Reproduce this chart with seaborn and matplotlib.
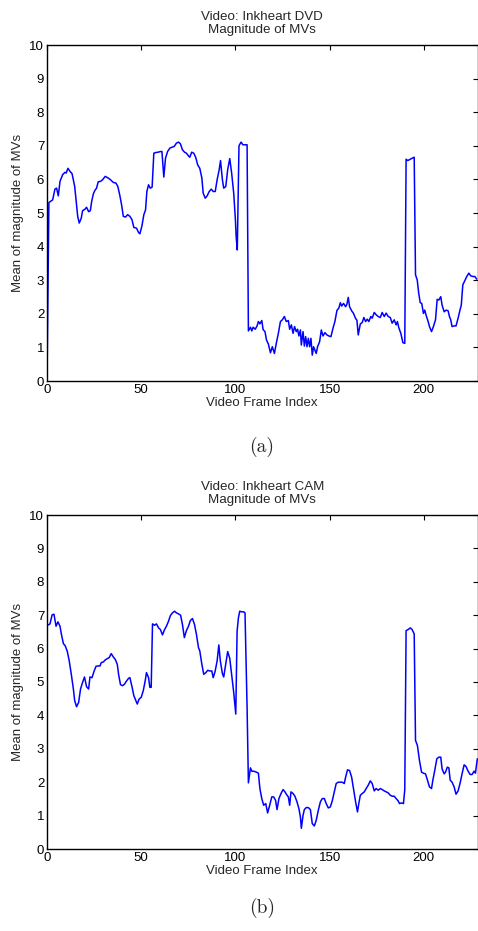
import matplotlib
matplotlib.use("Agg")
import matplotlib.pyplot as plt
import seaborn as sns
import pandas as pd

# ---- data ----
dvd_frames = [0, 1, 3, 4.2, 5.1, 6, 6.9, 8.3, 9.5, 10.2, 11.1, 12.2, 13.3, 14.7, 15.4, 16.3, 17.1, 18.2, 18.9,
              20.1, 21, 22.1, 23, 23.7, 24.6, 25.4, 26.3, 27.2, 28.4, 29.5, 30.9, 32.5, 33.7, 35.2, 36.6, 37.6,
              38.7, 39.6, 40.5, 41.7, 42.8, 44, 45.1, 46.1, 47.5, 48.6, 49.3, 50.4, 51.4, 52.3, 53, 53.9, 54.8,
              55.8, 56.7, 57.8, 59, 60.3, 61, 62, 62.9, 64, 65.2, 66.4, 67.5, 68.7, 69.8, 70.8, 71.9, 73, 74,
              75.1, 75.8, 76.8, 77.9, 78.9, 80, 81.1, 82.2, 82.9, 84, 85, 86.1, 87.2, 88.2, 89.3, 90.3, 91.4,
              92.1, 93.1, 93.8, 94.9, 95.9, 97, 98, 99.1, 100, 100.4, 101, 101.9, 103, 104, 105.1, 106.2,
              106.9, 108, 108.7, 109.4, 110.5, 111.5, 112.2, 113, 114, 114.7, 115.7, 116.5, 117.5, 118.6,
              119.6, 120.7, 121.7, 122.8, 123.9, 124.9, 126, 127, 128.1, 128.8, 129.7, 130.6, 131.4, 132.3,
              133, 133.7, 134.5, 135, 135.9, 136.6, 137.3, 138, 138.7, 139.4, 140.1, 140.8, 141.5, 142.2,
              142.9, 143.6, 144.7, 145.6, 146.5, 147.5, 148.6, 149.6, 150.7, 151.8, 152.8, 153.9, 154.9,
              155.7, 156.4, 157.4, 158.5, 159.2, 159.9, 160.6, 161.7, 162.7, 163.8, 164.5, 165.2, 166.3,
              167.3, 168.2, 169.1, 170, 170.8, 171.9, 172.6, 173.7, 174.7, 175.8, 176.9, 177.9, 179, 180,
              181.1, 182.2, 183.2, 184.3, 185.3, 186, 186.7, 187.8, 188.9, 189.9, 190.6, 191.5, 192.8,
              193.8, 194.9, 195.6, 196.5, 197.3, 198.1, 198.9, 199.8, 200.5, 201.2, 202.3, 203, 204.1,
              205.1, 206.2, 207.1, 208, 209, 209.7, 210.8, 211.8, 212.9, 213.6, 214.3, 215, 216.1, 217.1,
              218.2, 219.2, 219.9, 220.7, 221.7, 222.8, 223.9, 224.9, 226, 227.1, 228.1]
dvd_values = [0.0, 5.31, 5.39, 5.71, 5.74, 5.51, 5.94, 6.14, 6.21, 6.19, 6.33, 6.24, 6.17, 5.79, 5.39, 4.90,
              4.70, 4.85, 5.07, 5.11, 5.17, 5.04, 5.07, 5.34, 5.57, 5.67, 5.74, 5.93, 5.94, 5.99, 6.09, 6.04,
              5.99, 5.91, 5.89, 5.79, 5.51, 5.24, 4.90, 4.88, 4.95, 4.90, 4.80, 4.57, 4.55, 4.42, 4.38, 4.62,
              4.95, 5.09, 5.64, 5.84, 5.74, 5.77, 6.78, 6.80, 6.81, 6.83, 6.83, 6.07, 6.63, 6.83, 6.93, 6.96,
              6.98, 7.08, 7.11, 7.06, 6.88, 6.81, 6.78, 6.70, 6.66, 6.81, 6.78, 6.66, 6.43, 6.33, 6.04, 5.59,
              5.44, 5.51, 5.64, 5.71, 5.64, 5.64, 5.99, 6.29, 6.56, 5.99, 5.74, 5.79, 6.29, 6.62, 6.19, 5.59,
              4.80, 4.30, 3.90, 7.00, 7.11, 7.03, 7.03, 7.03, 1.49, 1.60, 1.49, 1.60, 1.54, 1.64, 1.77, 1.70,
              1.80, 1.53, 1.47, 1.22, 1.10, 0.84, 1.02, 0.82, 1.12, 1.42, 1.77, 1.82, 1.92, 1.77, 1.80, 1.54,
              1.67, 1.42, 1.62, 1.47, 1.54, 1.34, 1.52, 1.07, 1.47, 1.04, 1.32, 1.02, 1.27, 1.02, 1.27, 0.77,
              1.02, 0.92, 0.82, 1.02, 1.17, 1.52, 1.34, 1.44, 1.37, 1.34, 1.32, 1.57, 1.77, 2.10, 2.17, 2.33,
              2.23, 2.31, 2.21, 2.29, 2.49, 2.21, 2.09, 2.01, 1.86, 1.81, 1.37, 1.70, 1.74, 1.89, 1.77, 1.84,
              1.77, 1.92, 1.87, 2.04, 1.97, 1.92, 1.89, 2.04, 1.92, 2.02, 1.92, 1.89, 1.72, 1.82, 1.67, 1.77,
              1.59, 1.42, 1.14, 1.12, 6.60, 6.56, 6.60, 6.63, 6.66, 3.16, 3.01, 2.61, 2.33, 2.31, 2.01, 2.11,
              1.96, 1.77, 1.62, 1.47, 1.62, 1.82, 2.43, 2.41, 2.51, 2.26, 2.06, 2.11, 2.09, 1.92, 1.82, 1.62,
              1.64, 1.64, 1.87, 2.11, 2.26, 2.86, 2.98, 3.11, 3.21, 3.13, 3.11, 3.11, 3.03]

cam_frames = [0, 1.6, 2.7, 3.7, 4.8, 5.8, 6.9, 7.6, 8.7, 9.7, 10.8, 11.8, 12.9, 14, 14.7, 15.7, 16.8, 17.8,
              18.9, 19.9, 21, 22.1, 22.8, 23.9, 24.9, 26, 27, 28.1, 28.8, 29.9, 30.9, 32, 33, 34.1, 35.2, 36.2,
              37.3, 38, 39, 40.1, 41.2, 42.2, 43.3, 44, 45.1, 46.1, 47.2, 47.9, 48.9, 50, 51.1, 52.1, 52.8,
              53.9, 54.6, 55.3, 56, 57.1, 58.1, 59.2, 60.2, 61.3, 62.4, 63.4, 64.5, 65.5, 66.6, 67.7, 68.7,
              69.8, 70.9, 71.9, 72.9, 74, 75.1, 76.1, 77.2, 78.3, 79.3, 80.4, 81.1, 82.2, 83.2, 84.3, 85.3,
              86.4, 87.5, 88.2, 89.2, 90.3, 91.2, 92, 93.1, 93.8, 94.9, 95.9, 97, 98, 99.1, 100.2, 100.9,
              101.6, 102.3, 103.4, 104.4, 105.1, 106.2, 106.9, 108, 108.7, 109.7, 111.2, 112.2, 113, 114, 115,
              116.1, 117.1, 118.2, 119.3, 120.3, 121.3, 122.1, 123.1, 124.2, 125.3, 126.3, 127.4, 128.1,
              128.8, 129.5, 130.6, 131.6, 132.7, 133.7, 134.5, 135, 135.9, 136.6, 137.6, 138.7, 139.8, 140.8,
              141.9, 142.9, 144, 145.1, 146.1, 147.2, 148.2, 149.3, 150.4, 151.4, 152.5, 153.5, 154.6, 155.7,
              156.7, 157.8, 158.5, 159.5, 160.6, 161.7, 162.7, 163.8, 164.8, 165.5, 166.3, 167.3, 168.4,
              169.4, 170.5, 171.6, 172.6, 173.7, 174.7, 175.8, 176.9, 177.9, 179, 180, 181.1, 182.2, 183.2,
              184.3, 185.3, 186.4, 187.1, 188.2, 189.2, 189.9, 190.6, 191.7, 192.8, 193.8, 194.9, 195.6,
              196.6, 197.7, 198.8, 199.8, 200.9, 201.9, 203, 204.1, 204.8, 205.8, 206.9, 208, 209, 209.7,
              210.8, 211.5, 212.5, 213.3, 214, 215, 216.1, 217.1, 218.2, 219.3, 220.3, 221.4, 222.4, 223.5,
              224.6, 225.6, 226.7, 227.4, 228.4]
cam_values = [6.69, 6.74, 7.01, 7.03, 6.67, 6.80, 6.67, 6.44, 6.15, 6.08, 5.91, 5.63, 5.23, 4.79, 4.44, 4.26,
              4.39, 4.79, 4.99, 5.15, 4.86, 4.79, 5.15, 5.13, 5.31, 5.47, 5.48, 5.48, 5.58, 5.60, 5.66, 5.70,
              5.73, 5.85, 5.75, 5.68, 5.53, 5.23, 4.92, 4.89, 4.94, 5.03, 5.11, 5.13, 4.86, 4.59, 4.44, 4.34,
              4.49, 4.54, 4.74, 5.03, 5.28, 5.13, 4.84, 4.84, 6.74, 6.70, 6.74, 6.62, 6.57, 6.41, 6.57, 6.67,
              6.82, 6.99, 7.07, 7.12, 7.07, 7.04, 7.00, 6.72, 6.33, 6.54, 6.67, 6.84, 6.90, 6.72, 6.43, 6.03,
              5.93, 5.53, 5.23, 5.28, 5.35, 5.33, 5.33, 5.13, 5.31, 5.63, 6.11, 5.63, 5.25, 5.15, 5.55, 5.91,
              5.71, 5.23, 4.69, 4.04, 6.52, 6.92, 7.12, 7.10, 7.10, 7.07, 4.24, 1.98, 2.43, 2.33, 2.33, 2.30,
              2.27, 1.81, 1.51, 1.31, 1.36, 1.08, 1.31, 1.56, 1.56, 1.46, 1.18, 1.51, 1.66, 1.78, 1.71, 1.61,
              1.56, 1.31, 1.71, 1.66, 1.58, 1.41, 1.21, 0.96, 0.62, 1.01, 1.18, 1.24, 1.24, 1.18, 0.76, 0.69,
              0.86, 1.16, 1.41, 1.51, 1.51, 1.36, 1.23, 1.26, 1.44, 1.71, 1.96, 2.00, 2.00, 2.00, 1.96, 2.15,
              2.37, 2.35, 2.15, 1.80, 1.41, 1.11, 1.36, 1.61, 1.66, 1.71, 1.81, 1.91, 2.04, 1.96, 1.74, 1.81,
              1.76, 1.81, 1.78, 1.74, 1.71, 1.68, 1.61, 1.58, 1.58, 1.51, 1.44, 1.36, 1.38, 1.36, 1.78, 6.54,
              6.57, 6.62, 6.57, 6.44, 3.25, 3.10, 2.65, 2.30, 2.27, 2.25, 2.07, 1.86, 1.81, 2.06, 2.35, 2.70,
              2.75, 2.75, 2.40, 2.25, 2.30, 2.45, 2.43, 2.06, 2.00, 1.86, 1.64, 1.74, 1.98, 2.25, 2.52, 2.47,
              2.33, 2.23, 2.23, 2.33, 2.27, 2.70]

titles = ["Video: Inkheart DVD\nMagnitude of MVs", "Video: Inkheart CAM\nMagnitude of MVs"]
captions = ["(a)", "(b)"]
x_ticks = [0, 50, 100, 150, 200]
y_ticks = list(range(0, 11))

sns.set_theme(style="white")
plt.rcParams["font.family"] = ["Liberation Sans", "DejaVu Sans"]

W, H = 478, 931
fig = plt.figure(figsize=(W / 100, H / 100), dpi=100)

# axes boxes in pixel coords: (left, top, right, bottom)
boxes = [(47, 45, 477.5, 381), (47, 515, 477.5, 849)]
caption_y = [447, 908]

series = [(dvd_frames, dvd_values), (cam_frames, cam_values)]
for i, (box, (fx, fy)) in enumerate(zip(boxes, series)):
    l, t, r, b = box
    ax = fig.add_axes([l / W, 1 - b / H, (r - l) / W, (b - t) / H])
    df = pd.DataFrame({"frame": fx, "value": fy})
    sns.lineplot(data=df, x="frame", y="value", ax=ax, color="#0000ff",
                 linewidth=1.1, estimator=None, sort=False)
    ax.set_xlim(0, 228.5)
    ax.set_ylim(0, 10)
    ax.set_xticks(x_ticks)
    ax.set_yticks(y_ticks)
    ax.tick_params(direction="in", length=3.5, width=0.8, colors="black",
                   top=True, right=True, labelsize=9.5, pad=2)
    for s in ax.spines.values():
        s.set_visible(True)
        s.set_color("black")
        s.set_linewidth(1.0)
    ax.set_xlabel("Video Frame Index", fontsize=9.5, labelpad=1)
    ax.set_ylabel("Mean of magnitude of MVs", fontsize=9.5, labelpad=4)
    ax.set_title(titles[i], fontsize=9.6, pad=9, linespacing=1.02)
    fig.text(262 / W, 1 - caption_y[i] / H, captions[i], ha="center", va="center",
             fontsize=14, fontfamily="cmr10")

fig.savefig("out.png", dpi=100)
